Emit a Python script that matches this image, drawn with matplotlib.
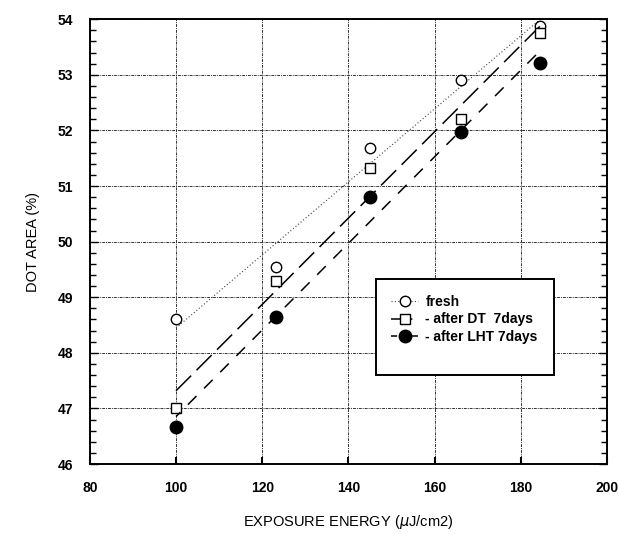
import numpy as np
import matplotlib
matplotlib.use("Agg")
import matplotlib.pyplot as plt
from matplotlib.ticker import MultipleLocator
from matplotlib.patches import Rectangle

plt.rcParams["font.family"] = ["Liberation Sans", "DejaVu Sans"]

energy = [100, 123.2, 145, 166, 184.5]
fresh = [48.6, 49.55, 51.68, 52.9, 53.88]
after_dt = [47.0, 49.3, 51.33, 52.2, 53.75]
after_lht = [46.66, 48.65, 50.8, 51.98, 53.22]

labels = ["fresh", "- after DT  7days", "- after LHT 7days"]

fig = plt.figure(figsize=(6.19, 5.34), dpi=100)
ax = fig.add_axes([0.145, 0.131, 0.836, 0.833])

x_fit = np.array([100, 185])
styles = [
    (fresh, (0, (1, 2)), "o", "white", 7.5, 0.8, "#444444"),
    (after_dt, (0, (14, 5)), "s", "white", 7, 1.1, "black"),
    (after_lht, (4, (8, 7)), "o", "black", 9, 1.1, "black"),
]
for (vals, ls, mk, mfc, ms, lw, lc), lab in zip(styles, labels):
    k, b = np.polyfit(energy, vals, 1)
    ax.plot(x_fit, k * x_fit + b, linestyle=ls, color=lc, lw=lw)
    ax.plot(energy, vals, linestyle="none", marker=mk, mfc=mfc, mec="black",
            ms=ms, mew=1.0)
    # legend proxy
    ax.plot([], [], linestyle=ls, color=lc, lw=lw, marker=mk, mfc=mfc,
            mec="black", ms=ms, mew=1.0, label=lab)

ax.set_xlim(80, 200)
ax.set_ylim(46, 54)
ax.xaxis.set_major_locator(MultipleLocator(20))
ax.yaxis.set_major_locator(MultipleLocator(1))
ax.yaxis.set_minor_locator(MultipleLocator(0.2))
ax.grid(True, which="major", linestyle=(0, (3, 1, 1, 1)), color="#333333", lw=0.7)
ax.tick_params(axis="y", which="both", direction="in", right=True, left=True)
ax.tick_params(axis="y", which="minor", length=4, width=1)
ax.tick_params(axis="y", which="major", length=6, width=1)
ax.tick_params(axis="x", direction="in", length=5, width=1.5, top=False)
ax.tick_params(axis="y", labelsize=10, pad=12)
ax.tick_params(axis="x", labelsize=10, pad=12)
for t in ax.get_xticklabels() + ax.get_yticklabels():
    t.set_fontweight("bold")
for s in ax.spines.values():
    s.set_linewidth(1.4)

ax.set_xlabel(r"EXPOSURE ENERGY ($\mu$J/cm2)", fontsize=10.5, labelpad=13)
ax.set_ylabel("DOT AREA (%)", fontsize=10.5, labelpad=13)

# legend box drawn larger than the entries, as in the original
ax.add_patch(Rectangle((0.553, 0.2), 0.344, 0.216, transform=ax.transAxes,
                       facecolor="white", edgecolor="black", lw=1.4, zorder=4))
leg = ax.legend(loc="upper left", bbox_to_anchor=(0.56, 0.405), frameon=False,
                handlelength=2.0, handletextpad=0.5, borderpad=0.3,
                labelspacing=0.25, prop={"weight": "bold", "size": 10})
leg.set_zorder(5)

fig.savefig("out.png", dpi=100)
